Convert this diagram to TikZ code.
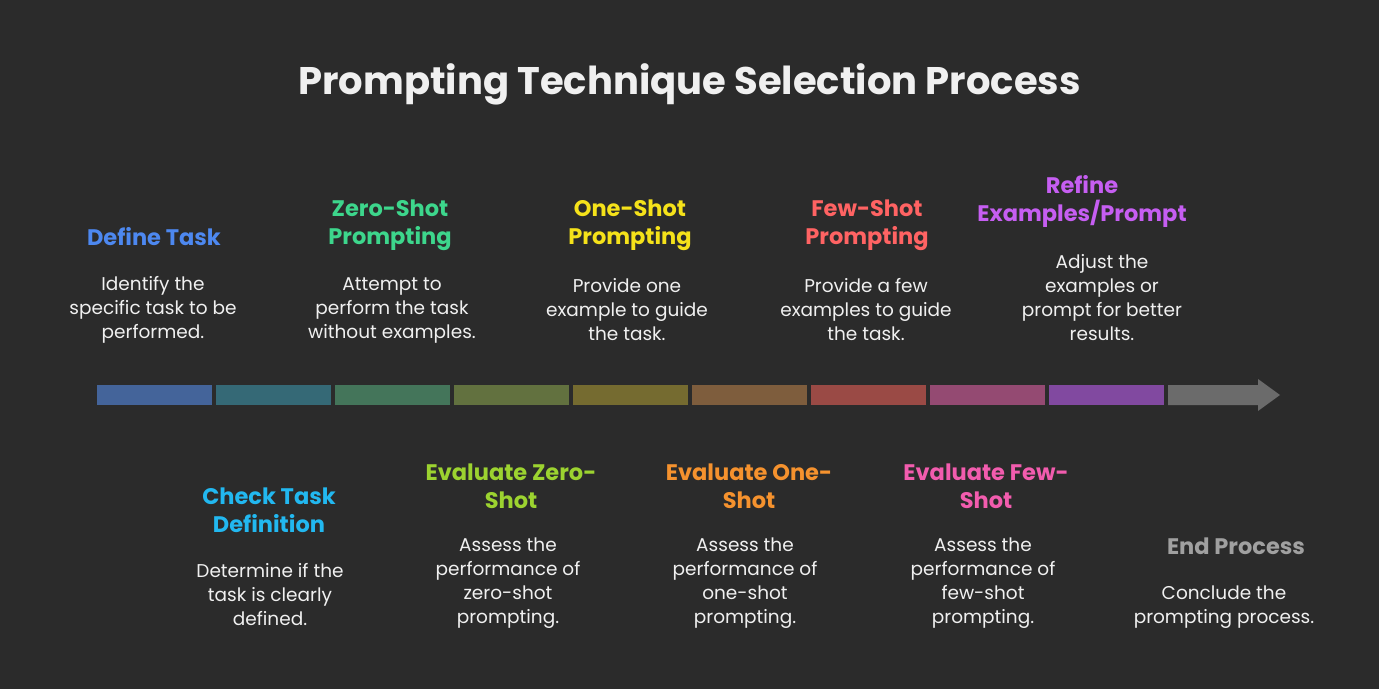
\documentclass[tikz,border=0pt]{standalone}
\usepackage{fontspec}
\setmainfont{Poppins}
\definecolor{bg}{HTML}{2B2B2B}
\definecolor{txt}{HTML}{F0F0F0}
\definecolor{s1}{HTML}{44649A}
\definecolor{s2}{HTML}{356976}
\definecolor{s3}{HTML}{44755A}
\definecolor{s4}{HTML}{62713F}
\definecolor{s5}{HTML}{756B30}
\definecolor{s6}{HTML}{7E5D3D}
\definecolor{s7}{HTML}{9A4A45}
\definecolor{s8}{HTML}{944A72}
\definecolor{s9}{HTML}{8149A0}
\definecolor{s10}{HTML}{6B6B6B}
\definecolor{cDefine}{HTML}{4D88F0}
\definecolor{cZero}{HTML}{3DD68C}
\definecolor{cOne}{HTML}{F5E21A}
\definecolor{cFew}{HTML}{FF6363}
\definecolor{cRefine}{HTML}{C65EF2}
\definecolor{cCheck}{HTML}{22B8F0}
\definecolor{cEvZero}{HTML}{9CD330}
\definecolor{cEvOne}{HTML}{F5922E}
\definecolor{cEvFew}{HTML}{F25CAE}
\definecolor{cEnd}{HTML}{A0A0A0}
\tikzset{
  seg/.style={draw=none, minimum width=115, minimum height=20, inner sep=0pt},
  head/.style={align=center, inner sep=0pt, font=\fontsize{22.5}{28}\selectfont\bfseries},
  desc/.style={align=center, inner sep=0pt, text=txt, font=\fontsize{18.5}{24}\selectfont},
}
\begin{document}
\begin{tikzpicture}[x=1pt,y=-1pt]
\fill[bg] (0,0) rectangle (1379,689);
\useasboundingbox (0,0) rectangle (1379,689);
\node[text=txt, inner sep=0pt, font=\fontsize{38.5}{44}\selectfont\bfseries] (title) at (689.5,84) {Prompting Technique Selection Process};
% timeline segments
\node[seg, fill=s1] (g1) at (154.5,395) {};
\node[seg, fill=s2] (g2) at (273.5,395) {};
\node[seg, fill=s3] (g3) at (392.5,395) {};
\node[seg, fill=s4] (g4) at (511.5,395) {};
\node[seg, fill=s5] (g5) at (630.5,395) {};
\node[seg, fill=s6] (g6) at (749.5,395) {};
\node[seg, fill=s7] (g7) at (868.5,395) {};
\node[seg, fill=s8] (g8) at (987.5,395) {};
\node[seg, fill=s9] (g9) at (1106.5,395) {};
\fill[s10] (1168,385) -- (1258,385) -- (1258,379) -- (1280,395) -- (1258,411) -- (1258,405) -- (1168,405) -- cycle;
% top
\node[head, text=cDefine] (h1) at (154,237) {Define Task};
\node[desc] (d1) at (153,310) {Identify the\\specific task to be\\performed.};
\node[head, text=cZero] (h3) at (390,225) {Zero-Shot\\Prompting};
\node[desc] (d3) at (392,310) {Attempt to\\perform the task\\without examples.};
\node[head, text=cOne] (h5) at (630,225) {One-Shot\\Prompting};
\node[desc] (d5) at (627,310) {Provide one\\example to guide\\the task.};
\node[head, text=cFew] (h7) at (867,225) {Few-Shot\\Prompting};
\node[desc] (d7) at (866,310) {Provide a few\\examples to guide\\the task.};
\node[head, text=cRefine] (h9) at (1082,201) {Refine\\Examples/Prompt};
\node[desc] (d9) at (1102,298) {Adjust the\\examples or\\prompt for better\\results.};
% bottom
\node[head, text=cCheck] (h2) at (269,510) {Check Task\\Definition};
\node[desc] (d2) at (270,595) {Determine if the\\task is clearly\\defined.};
\node[head, text=cEvZero] (h4) at (511,486) {Evaluate Zero-\\Shot};
\node[desc] (d4) at (508,583) {Assess the\\performance of\\zero-shot\\prompting.};
\node[head, text=cEvOne] (h6) at (749,486) {Evaluate One-\\Shot};
\node[desc] (d6) at (745,583) {Assess the\\performance of\\one-shot\\prompting.};
\node[head, text=cEvFew] (h8) at (986,486) {Evaluate Few-\\Shot};
\node[desc] (d8) at (983,583) {Assess the\\performance of\\few-shot\\prompting.};
\node[head, text=cEnd] (h10) at (1236,546) {End Process};
\node[desc] (d10) at (1224,607) {Conclude the\\prompting process.};
\end{tikzpicture}
\end{document}
